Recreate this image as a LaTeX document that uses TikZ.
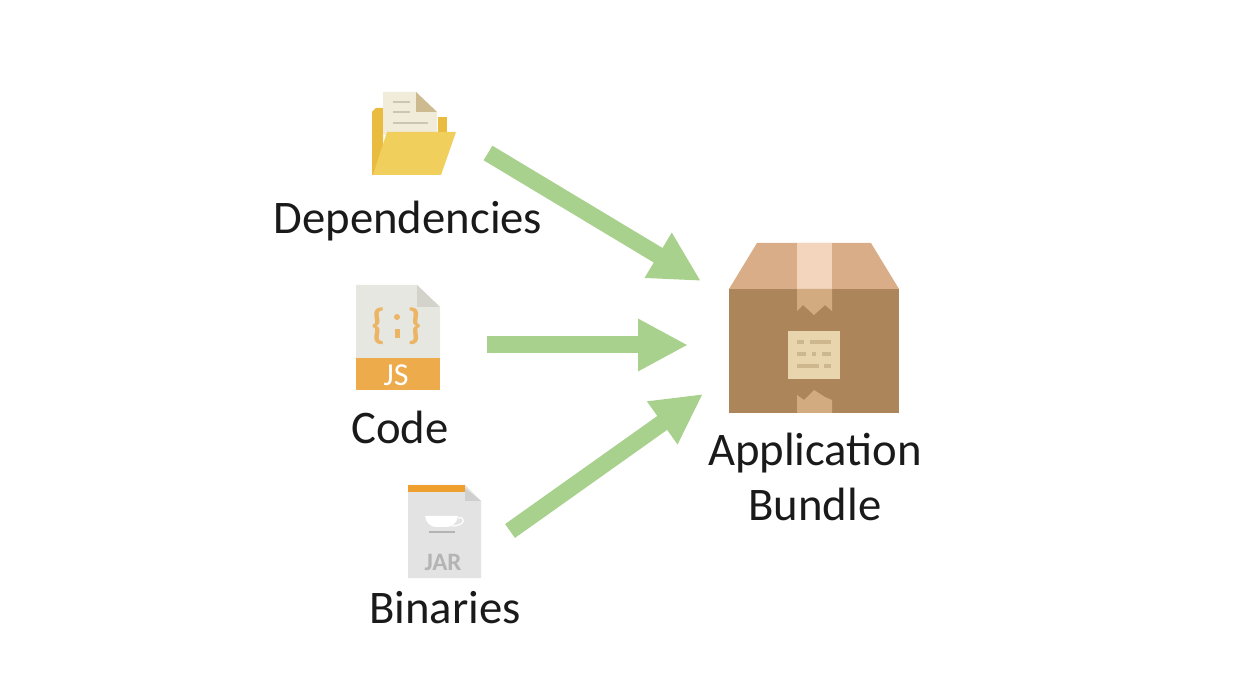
\documentclass[tikz,border=0pt]{standalone}
\usepackage{fontspec}
\setmainfont{Carlito}
\usetikzlibrary{arrows.meta}
\definecolor{arrowgreen}{HTML}{A9D18E}
\definecolor{txt}{HTML}{1A1A1A}
\definecolor{foldback}{HTML}{E9BC3F}
\definecolor{foldfront}{HTML}{F0CF5C}
\definecolor{paper}{HTML}{F1EBDA}
\definecolor{paperfold}{HTML}{CDBB8F}
\definecolor{paperline}{HTML}{C9C6B5}
\definecolor{pagegrey}{HTML}{E7E7E1}
\definecolor{pagefold}{HTML}{D3D3CB}
\definecolor{jsorange}{HTML}{EDAB4C}
\definecolor{bracket}{HTML}{EBB565}
\definecolor{jarpage}{HTML}{E3E3E3}
\definecolor{jarfold}{HTML}{CFCFCF}
\definecolor{jarband}{HTML}{EE9F2D}
\definecolor{jartext}{HTML}{B4B4B4}
\definecolor{boxbody}{HTML}{AC855A}
\definecolor{boxtop}{HTML}{D8AD87}
\definecolor{tapelight}{HTML}{F2D5BC}
\definecolor{tapedark}{HTML}{D2AB81}
\definecolor{labelpaper}{HTML}{E8D5AE}
\definecolor{labelline}{HTML}{CDB78F}
\tikzset{
  x=1pt,y=-1pt,
  flowarrow/.style={draw=arrowgreen,line width=17pt,-{Triangle[length=50pt,width=49pt]}},
  caption/.style={inner sep=0pt,text=txt,font=\fontsize{46.7}{55.5}\selectfont,align=center},
  bracemark/.style={inner sep=0pt,text=bracket,font=\fontsize{42}{42}\selectfont\bfseries},
}
\begin{document}
\begin{tikzpicture}
\useasboundingbox (0,0) rectangle (1254,684);
% folder icon
\fill[foldback] (372,112) -- (372,175) -- (383,175) -- (383,108) -- (376,108) -- cycle;
\fill[foldback] (438,117) -- (447,117) -- (447,140) -- (438,140) -- cycle;
\fill[paper] (383,92) -- (416,92) -- (437,112) -- (437,135) -- (383,135) -- cycle;
\fill[paperfold] (416,92) -- (437,112) -- (416,112) -- cycle;
\draw[paperline,line width=2.5pt] (393,102) -- (410,102) (393,112) -- (410,112) (393,123) -- (428,123);
\fill[foldfront] (387,132) -- (456,132) -- (441,175) -- (373,175) -- cycle;
% JS icon
\fill[pagegrey] (356,285) -- (417,285) -- (440,307) -- (440,358) -- (356,358) -- cycle;
\fill[pagefold] (417,285) -- (440,307) -- (417,307) -- cycle;
\fill[jsorange] (356,358) rectangle (440,390);
\node[bracemark] (jsbraceL) at (379,326) {\{};
\node[bracemark] (jsbraceR) at (415,326) {\}};
\fill[bracket] (397,317) circle (3pt);
\fill[bracket] (394.5,329) rectangle (399.5,338);
\node[inner sep=0pt,text=white,font=\fontsize{32}{32}\selectfont] (jslabel) at (396,375) {JS};
% JAR icon
\fill[jarpage] (408,485) -- (465,485) -- (481,501) -- (481,578) -- (408,578) -- cycle;
\fill[jarfold] (465,488) -- (481,501) -- (465,501) -- cycle;
\fill[jarband] (408,485) rectangle (465,492);
\fill[white] (425,516) -- (458,516) .. controls (457,523) and (452,527) .. (447,527) -- (436,527) .. controls (431,527) and (426,523) .. (425,516) -- cycle;
\draw[white,line width=1.2pt] (458,518) .. controls (466,516) and (466,526) .. (452,526);
\draw[jartext,line width=2pt] (429,532) -- (455,532);
\node[inner sep=0pt,text=jartext,font=\fontsize{25}{25}\selectfont\bfseries] (jarlabel) at (443,562) {JAR};
% bundle icon
\fill[boxtop] (757,243) -- (871,243) -- (899,289) -- (729,289) -- cycle;
\fill[tapelight] (797,243) rectangle (832,289);
\fill[boxbody] (729,289) rectangle (899,413);
\fill[tapedark] (797,289) -- (832,289) -- (832,311) -- (825,305) -- (814,315) -- (803,305) -- (797,311) -- cycle;
\fill[tapedark] (797,413) -- (832,413) -- (832,400) -- (825,397) -- (814,390) -- (804,400) -- (797,395) -- cycle;
\fill[labelpaper] (788,331) rectangle (840,379);
\draw[labelline,line width=3.5pt] (797,342) -- (804,342) (810,342) -- (831,342)
  (797,354) -- (806,354) (812,354) -- (816,354) (822,354) -- (831,354)
  (797,366) -- (819,366) (824,366) -- (831,366);
% captions
\node[caption] (dep) at (408,221) {Dependencies};
\node[caption] (code) at (400,427) {Code};
\node[caption] (bin) at (445,608) {Binaries};
\node[caption] (bundle) at (815,477) {Application\\Bundle};
% arrows
\coordinate (a1s) at (488,153);
\coordinate (a1e) at (701,281);
\coordinate (a2s) at (487,345);
\coordinate (a2e) at (688,345);
\coordinate (a3s) at (510,531);
\coordinate (a3e) at (703,394);
\draw[flowarrow] (a1s) -- (a1e);
\draw[flowarrow] (a2s) -- (a2e);
\draw[flowarrow] (a3s) -- (a3e);
\end{tikzpicture}
\end{document}
